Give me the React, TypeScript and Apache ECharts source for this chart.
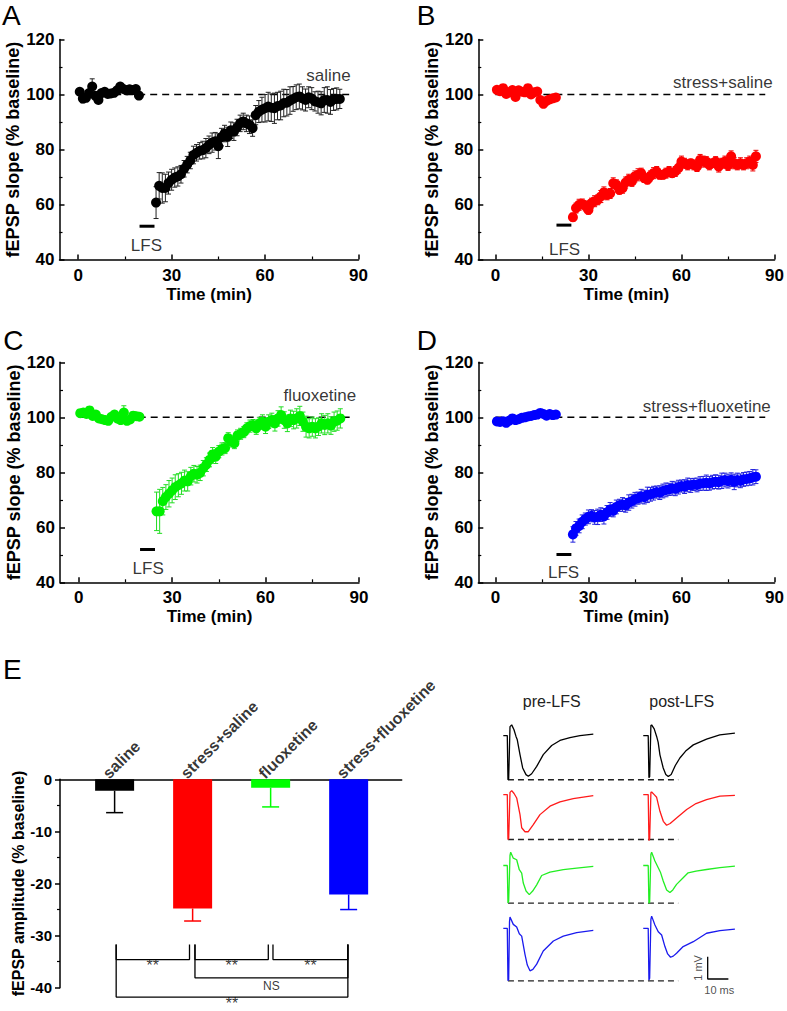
import React, { useEffect, useRef } from "react";
import * as echarts from "echarts";

// ---------------- data ----------------
const groupNames = ["saline", "stress+saline", "fluoxetine", "stress+fluoxetine"];

const baseTimes = [0.5, 1.5, 2.5, 3.5, 4.5, 5.5, 6.5, 7.5, 8.5, 9.5, 10.5, 11.5, 12.5, 13.5, 14.5, 15.5, 16.5, 17.5, 18.5, 19.5];
const postTimes = [25, 26, 27, 28, 29, 30, 31, 32, 33, 34, 35, 36, 37, 38, 39, 40, 41, 42, 43, 44, 45, 46, 47, 48, 49, 50, 51, 52, 53, 54, 55, 56, 57, 58, 59, 60, 61, 62, 63, 64, 65, 66, 67, 68, 69, 70, 71, 72, 73, 74, 75, 76, 77, 78, 79, 80, 81, 82, 83, 84];

const salineBase = [101.0, 98.5, 98.8, 100.5, 102.9, 99.5, 98.0, 100.5, 101.0, 100.2, 100.4, 100.6, 101.5, 102.9, 102.0, 101.5, 101.9, 101.6, 102.0, 99.6];
const salineBaseErr = [1.2, 1.5, 1.2, 1.0, 2.8, 1.0, 1.0, 1.0, 1.0, 0.8, 0.8, 1.0, 1.0, 1.0, 1.0, 0.8, 0.8, 1.0, 1.0, 1.2];
const salinePost = [60.7, 66.8, 66.0, 66.0, 67.8, 69.0, 69.8, 70.2, 71.0, 73.0, 74.5, 76.0, 78.0, 78.8, 79.5, 79.8, 80.5, 81.7, 82.5, 83.0, 81.2, 84.5, 85.8, 84.6, 87.0, 86.5, 88.0, 89.5, 90.2, 89.5, 89.0, 87.8, 92.5, 93.8, 94.5, 95.0, 95.6, 95.2, 95.0, 95.8, 96.0, 96.9, 97.0, 97.8, 98.4, 99.0, 99.3, 98.6, 98.0, 99.0, 98.5, 97.5, 97.2, 96.8, 98.0, 98.0, 97.3, 98.2, 98.4, 98.4];
const salinePostErr = [5.8, 4.8, 5.5, 5.0, 4.0, 3.8, 3.5, 3.5, 3.2, 3.0, 3.0, 3.0, 3.2, 3.0, 3.0, 3.2, 3.5, 3.2, 3.5, 3.2, 4.5, 3.2, 3.0, 3.5, 3.0, 3.2, 3.0, 3.0, 3.0, 3.0, 3.2, 3.0, 3.5, 4.0, 4.5, 5.0, 5.2, 5.0, 5.5, 5.0, 5.2, 5.0, 4.8, 5.0, 4.5, 4.5, 4.5, 4.2, 4.0, 3.8, 4.0, 3.5, 4.0, 4.2, 4.5, 4.8, 4.5, 4.0, 4.0, 3.5];

const stressSalineBase = [101.7, 101.2, 102.3, 100.2, 100.8, 101.6, 99.1, 101.5, 101.0, 100.8, 102.3, 100.0, 100.8, 101.1, 98.0, 96.6, 97.7, 98.2, 98.6, 98.9];
const stressSalineBaseErr = [1.0, 0.8, 0.9, 0.8, 0.8, 0.9, 0.8, 0.8, 0.8, 0.8, 0.9, 0.8, 0.8, 0.8, 0.8, 0.9, 0.8, 0.8, 0.8, 0.8];
const stressSalinePost = [55.4, 58.7, 59.9, 60.2, 59.5, 58.0, 60.5, 61.2, 61.7, 62.9, 64.4, 63.5, 64.0, 67.7, 67.2, 65.3, 65.9, 68.0, 69.0, 68.4, 70.2, 70.8, 71.4, 69.6, 69.0, 70.4, 71.4, 72.0, 70.8, 70.8, 71.4, 72.0, 71.4, 72.0, 73.2, 75.6, 75.0, 74.4, 75.0, 74.4, 73.8, 76.2, 75.6, 75.6, 74.4, 75.0, 75.6, 73.8, 75.0, 75.6, 74.2, 77.5, 75.0, 74.4, 75.0, 74.4, 75.0, 75.6, 74.4, 77.5];
const stressSalinePostErr = [1.5, 1.8, 2.0, 1.8, 1.8, 1.5, 1.8, 2.0, 1.8, 2.2, 2.0, 1.8, 1.8, 2.0, 1.8, 1.5, 1.8, 2.0, 2.0, 1.8, 2.0, 2.2, 1.8, 1.5, 1.5, 1.8, 2.0, 1.8, 1.5, 1.5, 1.8, 1.8, 1.5, 1.8, 1.8, 2.0, 1.8, 1.8, 1.5, 1.8, 1.8, 2.0, 2.0, 1.8, 1.8, 1.5, 1.8, 2.0, 1.8, 2.0, 1.8, 2.0, 2.0, 1.8, 2.0, 1.8, 2.0, 2.0, 2.2, 2.2];

const fluoxetineBase = [101.5, 101.7, 101.2, 102.5, 100.5, 101.0, 99.6, 99.3, 99.0, 98.7, 100.2, 101.0, 99.5, 99.0, 101.7, 98.7, 99.2, 100.6, 100.4, 100.2];
const fluoxetineBaseErr = [1.0, 1.0, 1.2, 1.0, 1.0, 1.0, 1.0, 1.0, 1.0, 1.0, 1.0, 1.0, 1.2, 1.0, 2.5, 1.0, 1.0, 1.0, 1.0, 1.0];
const fluoxetinePost = [65.8, 65.8, 69.5, 71.0, 72.2, 73.4, 74.6, 75.3, 76.0, 77.0, 76.7, 78.6, 79.5, 79.1, 79.8, 81.5, 82.8, 84.5, 86.5, 85.7, 87.5, 88.5, 88.8, 92.4, 91.2, 90.6, 93.4, 94.0, 94.6, 96.0, 96.8, 97.2, 96.0, 97.8, 98.4, 96.6, 98.4, 99.0, 97.8, 99.6, 100.8, 99.0, 97.8, 99.6, 99.0, 99.6, 100.5, 98.4, 96.6, 96.0, 96.6, 96.0, 96.6, 97.8, 97.2, 97.8, 97.0, 98.4, 98.8, 99.6];
const fluoxetinePostErr = [7.0, 8.0, 5.0, 4.5, 4.8, 4.5, 4.5, 4.2, 4.0, 3.8, 3.5, 3.2, 3.0, 3.0, 2.8, 2.8, 2.5, 2.5, 2.5, 2.5, 2.2, 2.2, 2.0, 2.0, 2.0, 2.0, 2.0, 2.0, 2.0, 2.0, 2.2, 2.0, 2.2, 2.2, 2.5, 2.5, 2.5, 2.5, 2.8, 2.8, 3.0, 3.0, 3.0, 3.0, 3.2, 3.5, 3.5, 3.5, 3.8, 3.5, 3.5, 3.5, 3.2, 3.5, 3.5, 3.5, 3.2, 3.5, 3.5, 3.5];

const stressFluoxetineBase = [98.5, 98.3, 98.6, 98.0, 98.8, 99.6, 99.0, 99.3, 99.8, 100.0, 100.3, 100.5, 100.8, 101.0, 101.6, 101.2, 100.6, 101.2, 100.8, 101.0];
const stressFluoxetineBaseErr = [0.6, 0.6, 0.7, 0.6, 0.6, 0.7, 0.6, 0.6, 0.6, 0.7, 0.6, 0.6, 0.6, 0.6, 0.7, 0.6, 0.6, 0.6, 0.6, 0.6];
const stressFluoxetinePost = [57.4, 59.6, 60.5, 62.0, 63.0, 63.8, 64.2, 63.6, 63.8, 64.6, 64.0, 65.4, 66.5, 66.0, 67.4, 68.0, 68.3, 68.0, 69.0, 69.5, 70.2, 70.6, 71.3, 71.0, 71.8, 72.0, 72.4, 72.8, 72.6, 73.2, 73.6, 73.8, 74.2, 74.0, 74.6, 75.0, 74.8, 75.4, 75.2, 75.6, 75.4, 75.9, 76.0, 76.2, 76.0, 76.4, 76.6, 76.4, 76.9, 77.2, 76.8, 77.3, 76.5, 77.2, 76.9, 77.4, 77.6, 77.8, 78.2, 78.4];
const stressFluoxetinePostErr = [2.8, 2.5, 2.5, 2.5, 2.2, 2.5, 2.2, 2.5, 2.8, 2.5, 2.8, 2.5, 2.5, 2.2, 2.5, 2.2, 2.5, 2.5, 2.8, 2.5, 2.5, 2.2, 2.5, 2.5, 2.8, 2.5, 2.5, 2.2, 2.5, 2.5, 2.5, 2.2, 2.5, 2.5, 2.5, 2.2, 2.5, 2.5, 2.5, 2.2, 2.5, 2.5, 2.5, 2.8, 2.5, 2.5, 2.5, 2.5, 2.8, 2.5, 2.5, 2.5, 2.8, 2.5, 2.5, 2.5, 2.5, 2.5, 2.8, 2.5];

const yTicksSlope = [40, 120];
const xMajorTicks = [0, 30, 60, 90];
const xMinorTicks = [15, 45, 75];
const lfsStart = 19.7;
const lfsEnd = 24.5;
const baselineLevel = 100;
const baselineLineEnd = 87;

// panel E
const ampValues = [-2.2, -24.8, -1.6, -22.1];
const ampErr = [4.2, 2.4, 3.7, 2.9];
// comparisons: [xFrom, xTo, level, text]
const sigTop = -31.7;
const comparisons: [number, number, number, string][] = [
  [1.02, 1.96, -34.6, "**"],
  [2.03, 2.97, -34.6, "**"],
  [3.03, 3.99, -34.6, "**"],
  [2.03, 3.99, -38.1, "NS"],
  [1.02, 3.99, -41.8, "**"],
];

// representative fEPSP traces: [ms, mV] relative to trace start / baseline
const blackPre = [[0, 0], [1.93, 0], [2.25, -1.99], [2.6, -1.95], [3.24, 0.4], [4.06, 0.48], [5.17, 0.26], [6.14, -0.04], [6.76, -0.19], [8.07, -0.86], [9.37, -1.46], [10.97, -1.76], [12.08, -1.83], [13.72, -1.72], [16.14, -1.39], [19.32, -0.86], [23.38, -0.45], [27.39, -0.22], [32.2, -0.09], [37.05, 0], [43.5, 0.06]];
const blackPost = [[0, 0], [2.4, 0], [2.75, -1.9], [3.1, -1.85], [3.7, 0.45], [4.06, 0.48], [5.3, 0.3], [6.47, -0.04], [7.2, -0.3], [8.07, -0.87], [9.66, -1.46], [10.9, -1.75], [12.08, -1.84], [13.5, -1.75], [15.5, -1.35], [17.7, -1.01], [20.5, -0.7], [24.2, -0.42], [30.6, -0.16], [37.0, 0.03], [44.3, 0.11]];
const redPre = [[0, 0], [1.93, 0], [2.25, -2.02], [2.6, -1.98], [3.24, 0.1], [4.06, 0.18], [5.2, 0.05], [6.47, -0.15], [8.07, -0.9], [8.89, -1.49], [10.48, -1.67], [12.08, -1.67], [14.5, -1.35], [17.73, -0.9], [22.56, -0.52], [27.39, -0.33], [33.8, -0.18], [43.5, -0.04]];
const redPost = [[0, 0], [2.4, 0], [2.75, -2.06], [3.1, -2.0], [3.7, 0.1], [4.06, 0.12], [5.3, 0.0], [6.47, -0.12], [8.07, -0.75], [9.7, -1.2], [11.3, -1.38], [13.0, -1.3], [16.1, -1.05], [21.0, -0.67], [25.5, -0.4], [30.6, -0.22], [37.05, -0.07], [44.3, -0.03]];
const greenPre = [[0, 0], [1.93, 0], [2.25, -1.69], [2.6, -1.6], [3.24, 0.45], [3.57, 0.6], [4.83, 0.33], [6.47, 0.26], [7.73, -0.19], [8.89, -0.34], [9.66, -0.79], [11.0, -1.15], [12.56, -1.31], [14.2, -1.15], [16.14, -0.87], [18.55, -0.45], [22.56, -0.3], [29.0, -0.19], [35.46, -0.12], [43.5, -0.04]];
const greenPost = [[0, 0], [2.4, 0], [2.75, -1.7], [3.1, -1.65], [3.7, 0.5], [4.06, 0.6], [5.65, 0.2], [7.25, -0.1], [8.3, -0.3], [9.66, -0.7], [11.3, -1.1], [12.9, -1.22], [14.3, -1.1], [16.1, -0.85], [19.3, -0.55], [21.7, -0.33], [25.5, -0.25], [30.6, -0.18], [37.05, -0.1], [44.3, -0.03]];
const bluePre = [[0, 0], [1.93, 0], [2.25, -2.36], [2.6, -2.3], [3.0, 0.3], [3.24, 0.51], [4.83, 0.18], [6.47, 0.06], [7.73, -0.24], [8.89, -0.35], [10.48, -1.17], [11.6, -1.65], [12.9, -1.91], [14.3, -1.85], [16.14, -1.61], [19.3, -1.02], [24.2, -0.57], [29.0, -0.35], [35.46, -0.19], [43.5, -0.09]];
const bluePost = [[0, 0], [2.4, 0], [2.75, -2.32], [3.1, -2.25], [3.7, 0.4], [4.06, 0.55], [5.65, 0.15], [7.25, -0.15], [8.89, -0.3], [10.48, -0.82], [11.8, -1.15], [13.2, -1.3], [14.5, -1.25], [16.1, -1.12], [19.3, -0.82], [24.2, -0.6], [30.6, -0.22], [37.05, -0.1], [44.3, -0.03]];
const scaleBarMs = 10;
const scaleBarMv = 1;

// ---------------- layout & style ----------------
const FONT = "'Liberation Sans', Arial, Helvetica, sans-serif";
const markerColors = ["#000000", "#ff0000", "#00f000", "#0000ff"];
const errColors = ["#222222", "#ee0000", "#22dd22", "#2222dd"];
const barColors = ["#000000", "#ff0000", "#00ff00", "#0000ff"];
const traceColors = ["#000000", "#ff1a1a", "#22ee22", "#1a1aee"];

const panelGrids = [
  { left: 59.5, top: 39.5, width: 299, height: 220 },
  { left: 478.3, top: 39.5, width: 296.7, height: 220 },
  { left: 60, top: 362.3, width: 299, height: 220 },
  { left: 478.3, top: 362.3, width: 296.7, height: 220 },
];
const panelXMin = [-6, -5.5, -6, -5.5];
const nameLabelPos = [[87.5, 106.8], [89.4, 104.5], [89.1, 108.1], [88.8, 103.9]];
const lfsBarY = [52.1, 52.5, 51.9, 50.1];
const lfsTextPos = [[21.9, 45.0], [22.3, 43.8], [22.3, 44.9], [22.0, 43.7]];
const panelLetters = [
  ["A", 2, 15.5], ["B", 416.7, 15.5], ["C", 3.3, 340.5], ["D", 416.7, 340.5], ["E", 3, 669.5],
];

const traceColX = [11.26, 78.9];
const traceRowY = [-1.6, -4.26, -7.45, -10.28];
const dashEndX = 95.8;
const scaleBarOrigin = [110.05, -12.56];

function errSeries(xi: number, yi: number, data: number[][], color: string, cap: number, width: number, bottomOnly = false) {
  return {
    type: "custom",
    xAxisIndex: xi,
    yAxisIndex: yi,
    data,
    encode: { x: 0, y: [1, 2] },
    silent: true,
    clip: false,
    z: 2,
    renderItem: (_p: any, api: any) => {
      const x = api.value(0);
      const a = api.coord([x, api.value(1)]);
      const b = api.coord([x, api.value(2)]);
      const st = { stroke: color, lineWidth: width, fill: "none" };
      const children: any[] = [
        { type: "line", shape: { x1: a[0], y1: a[1], x2: b[0], y2: b[1] }, style: st },
        { type: "line", shape: { x1: b[0] - cap, y1: b[1], x2: b[0] + cap, y2: b[1] }, style: st },
      ];
      if (!bottomOnly) children.push({ type: "line", shape: { x1: a[0] - cap, y1: a[1], x2: a[0] + cap, y2: a[1] }, style: st });
      return { type: "group", children };
    },
  };
}

function buildOption() {
  const panels = [
    { base: salineBase, baseErr: salineBaseErr, post: salinePost, postErr: salinePostErr },
    { base: stressSalineBase, baseErr: stressSalineBaseErr, post: stressSalinePost, postErr: stressSalinePostErr },
    { base: fluoxetineBase, baseErr: fluoxetineBaseErr, post: fluoxetinePost, postErr: fluoxetinePostErr },
    { base: stressFluoxetineBase, baseErr: stressFluoxetineBaseErr, post: stressFluoxetinePost, postErr: stressFluoxetinePostErr },
  ];
  const axisLine = { color: "#000", width: 1.5 };
  const boldText = { color: "#000", fontWeight: "bold" as const, fontFamily: FONT };

  const grid: any[] = [];
  const xAxis: any[] = [];
  const yAxis: any[] = [];
  const series: any[] = [];

  panels.forEach((p, k) => {
    grid.push({ ...panelGrids[k], containLabel: false });
    xAxis.push({
      type: "value", gridIndex: k, min: panelXMin[k], max: 90, position: "bottom",
      axisLine: { show: true, onZero: false, lineStyle: axisLine },
      axisTick: { show: true, inside: true, length: 5, customValues: xMajorTicks, lineStyle: axisLine },
      axisLabel: { customValues: xMajorTicks, margin: 7, fontSize: 17, ...boldText },
      splitLine: { show: false },
      name: "Time (min)", nameLocation: "middle", nameGap: 26,
      nameTextStyle: { fontSize: 17, ...boldText },
    });
    xAxis.push({
      type: "value", gridIndex: k, min: panelXMin[k], max: 90, position: "bottom", offset: 0,
      axisLine: { show: false },
      axisTick: { show: true, inside: true, length: 3, customValues: xMinorTicks, lineStyle: { color: "#000", width: 1.2 } },
      axisLabel: { show: false },
      splitLine: { show: false },
    });
    yAxis.push({
      type: "value", gridIndex: k, min: yTicksSlope[0], max: yTicksSlope[1], interval: 20,
      axisLine: { show: true, onZero: false, lineStyle: axisLine },
      axisTick: { show: true, inside: true, length: 5, lineStyle: axisLine },
      minorTick: { show: true, splitNumber: 2, length: 3, lineStyle: { color: "#000", width: 1.2 } },
      axisLabel: { margin: 5, fontSize: 17, ...boldText },
      splitLine: { show: false }, minorSplitLine: { show: false },
      name: "fEPSP slope (% baseline)", nameLocation: "middle", nameGap: 33,
      nameTextStyle: { fontSize: 18, ...boldText },
    });
    const xi = 2 * k;
    series.push({
      type: "line", xAxisIndex: xi, yAxisIndex: k, silent: true, z: 1, symbol: "none",
      data: [[0, baselineLevel], [baselineLineEnd, baselineLevel]],
      lineStyle: { color: "#000", width: 1.5, type: [7, 5] },
    });
    const errData = [
      ...baseTimes.map((t, i) => [t, p.base[i] - p.baseErr[i], p.base[i] + p.baseErr[i]]),
      ...postTimes.map((t, i) => [t, p.post[i] - p.postErr[i], p.post[i] + p.postErr[i]]),
    ];
    series.push(errSeries(xi, k, errData, errColors[k], 2.5, 1));
    series.push({
      type: "scatter", xAxisIndex: xi, yAxisIndex: k, symbolSize: 10, z: 3, silent: true,
      itemStyle: { color: markerColors[k], opacity: 1 },
      data: [...baseTimes.map((t, i) => [t, p.base[i]]), ...postTimes.map((t, i) => [t, p.post[i]])],
    });
    series.push({
      type: "line", xAxisIndex: xi, yAxisIndex: k, silent: true, z: 3, symbol: "none",
      data: [[lfsStart, lfsBarY[k]], [lfsEnd, lfsBarY[k]]],
      lineStyle: { color: "#000", width: 3 },
    });
    series.push({
      type: "scatter", xAxisIndex: xi, yAxisIndex: k, symbolSize: 0, silent: true, z: 5, clip: false,
      itemStyle: { color: "transparent" },
      data: [
        { value: nameLabelPos[k], label: { show: true, formatter: groupNames[k], position: "inside", align: "right", verticalAlign: "middle", fontSize: 17, color: "#000", fontFamily: FONT } },
        { value: lfsTextPos[k], label: { show: true, formatter: "LFS", position: "inside", align: "center", verticalAlign: "middle", fontSize: 17, color: "#000", fontFamily: FONT } },
      ],
    });
  });

  // ---- panel E ----
  grid.push({ left: 60, top: 779.3, width: 341.7, height: 208.4 });
  xAxis.push({
    type: "value", gridIndex: 4, min: 0.3, max: 4.68, position: "top",
    axisLine: { show: true, onZero: false, lineStyle: axisLine },
    axisTick: { show: false }, axisLabel: { show: false }, splitLine: { show: false },
  });
  yAxis.push({
    type: "value", gridIndex: 4, min: -40, max: 0, interval: 10,
    axisLine: { show: true, onZero: false, lineStyle: axisLine },
    axisTick: { show: true, inside: false, length: 5, lineStyle: axisLine },
    minorTick: { show: true, splitNumber: 2, length: 3, lineStyle: { color: "#000", width: 1.2 } },
    axisLabel: { margin: 8, fontSize: 15, ...boldText },
    splitLine: { show: false }, minorSplitLine: { show: false },
    name: "fEPSP amplitude (% baseline)", nameLocation: "middle", nameGap: 34,
    nameTextStyle: { fontSize: 16, ...boldText },
  });
  series.push({
    type: "bar", xAxisIndex: 8, yAxisIndex: 4, barWidth: 39, silent: true, z: 2,
    data: ampValues.map((v, i) => ({ value: [i + 1, v], itemStyle: { color: barColors[i] } })),
  });
  ampValues.forEach((v, i) => {
    series.push(errSeries(8, 4, [[i + 1, v, v - ampErr[i]]], barColors[i], 8.5, 1.5, true));
  });
  series.push({
    type: "scatter", xAxisIndex: 8, yAxisIndex: 4, symbolSize: 0, silent: true, z: 5, clip: false,
    itemStyle: { color: "transparent" },
    data: groupNames.map((n, i) => ({
      value: [i + 1, 0],
      label: { show: true, formatter: n, position: "inside", rotate: 45, align: "left", verticalAlign: "middle", offset: [-4, -9], fontSize: 16, ...boldText },
    })),
  });
  comparisons.forEach(([a, b, lvl]) => {
    series.push({
      type: "line", xAxisIndex: 8, yAxisIndex: 4, symbol: "none", silent: true, clip: false, z: 3,
      data: [[a, sigTop], [a, lvl], [b, lvl], [b, sigTop]],
      lineStyle: { color: "#000", width: 1.3 },
    });
  });
  series.push({
    type: "scatter", xAxisIndex: 8, yAxisIndex: 4, symbolSize: 0, silent: true, z: 5, clip: false,
    itemStyle: { color: "transparent" },
    data: comparisons.map(([a, b, lvl, txt]) => ({
      value: [(a + b) / 2, lvl],
      label: txt === "NS"
        ? { show: true, formatter: txt, position: "inside", align: "center", verticalAlign: "top", offset: [0, 2], fontSize: 12, color: "#000", fontFamily: FONT }
        : { show: true, formatter: txt, position: "inside", align: "center", verticalAlign: "middle", lineHeight: 12, offset: [0, 6], fontSize: 16, color: "#000", fontFamily: FONT },
    })),
  });

  // ---- traces ----
  grid.push({ left: 480, top: 700, width: 300, height: 312 });
  xAxis.push({ type: "value", gridIndex: 5, min: 0, max: 145, show: false });
  yAxis.push({ type: "value", gridIndex: 5, min: -14, max: 0, show: false });
  const traces = [[blackPre, blackPost], [redPre, redPost], [greenPre, greenPost], [bluePre, bluePost]];
  traces.forEach((pair, r) => {
    pair.forEach((shape, c) => {
      series.push({
        type: "line", xAxisIndex: 9, yAxisIndex: 5, symbol: "none", silent: true, clip: false, z: 3,
        data: shape.map(([t, v]) => [traceColX[c] + t, traceRowY[r] + v]),
        lineStyle: { color: traceColors[r], width: 1.3 },
      });
    });
    const pre = pair[0];
    let m = pre[0];
    pre.forEach((pt) => { if (pt[1] < m[1]) m = pt; });
    series.push({
      type: "line", xAxisIndex: 9, yAxisIndex: 5, symbol: "none", silent: true, clip: false, z: 2,
      data: [[traceColX[0] + m[0], traceRowY[r] + m[1]], [dashEndX, traceRowY[r] + m[1]]],
      lineStyle: { color: "#222", width: 1.3, type: [6, 4] },
    });
  });
  series.push({
    type: "line", xAxisIndex: 9, yAxisIndex: 5, symbol: "none", silent: true, clip: false, z: 3,
    data: [[scaleBarOrigin[0], scaleBarOrigin[1] + scaleBarMv], scaleBarOrigin, [scaleBarOrigin[0] + scaleBarMs, scaleBarOrigin[1]]],
    lineStyle: { color: "#000", width: 1.3 },
  });
  series.push({
    type: "scatter", xAxisIndex: 9, yAxisIndex: 5, symbolSize: 0, silent: true, z: 5, clip: false,
    itemStyle: { color: "transparent" },
    data: [
      { value: [scaleBarOrigin[0] - 4.5, scaleBarOrigin[1] + scaleBarMv / 2], label: { show: true, formatter: `${scaleBarMv} mV`, position: "inside", rotate: 90, align: "center", verticalAlign: "middle", fontSize: 11, color: "#222", fontFamily: FONT } },
      { value: [scaleBarOrigin[0] + scaleBarMs / 2 + 0.6, scaleBarOrigin[1] - 0.48], label: { show: true, formatter: `${scaleBarMs} ms`, position: "inside", align: "center", verticalAlign: "middle", fontSize: 11, color: "#222", fontFamily: FONT } },
    ],
  });

  const graphic: any[] = panelLetters.map(([t, x, y]) => ({
    type: "text", x, y,
    style: { text: t, fontSize: 28, lineHeight: 24, fill: "#000", fontFamily: FONT, textAlign: "left", textVerticalAlign: "middle" },
  }));
  graphic.push(
    { type: "text", x: 551.7, y: 701.7, style: { text: "pre-LFS", fontSize: 16, fill: "#222", fontFamily: FONT, textAlign: "center", textVerticalAlign: "middle" } },
    { type: "text", x: 681.7, y: 701.7, style: { text: "post-LFS", fontSize: 16, fill: "#222", fontFamily: FONT, textAlign: "center", textVerticalAlign: "middle" } },
  );

  return {
    animation: false,
    backgroundColor: "#ffffff",
    textStyle: { fontFamily: FONT },
    grid, xAxis, yAxis, series, graphic,
  };
}

export default function App() {
  const ref = useRef<HTMLDivElement>(null);
  useEffect(() => {
    const chart = echarts.init(ref.current!, null, { renderer: "svg" });
    chart.setOption(buildOption() as any);
    return () => chart.dispose();
  }, []);
  return <div ref={ref} style={{ position: "absolute", left: 0, top: 0, width: 787, height: 1011 }} />;
}
